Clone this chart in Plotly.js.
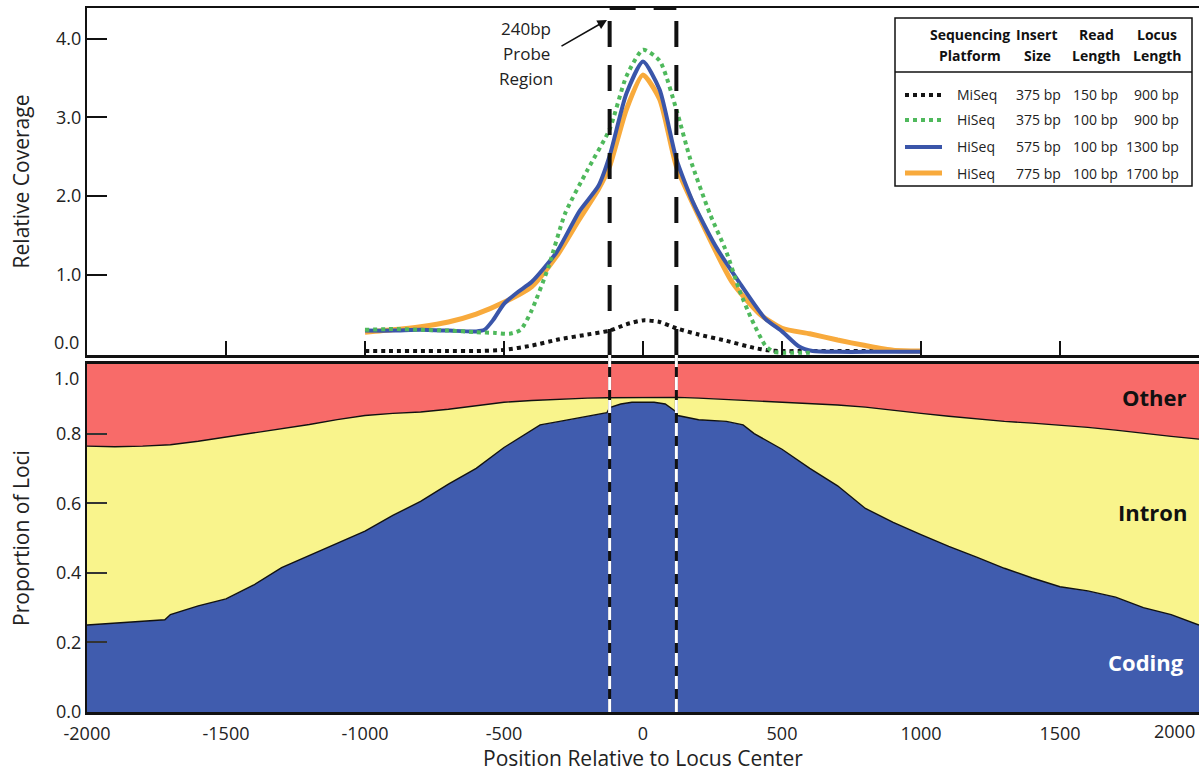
<!DOCTYPE html>
<html><head><meta charset="utf-8">
<script src="https://cdn.plot.ly/plotly-3.0.1.min.js"></script>
<style>html,body{margin:0;padding:0;background:#fff;} #chart{width:1199px;height:772px;}</style>
</head><body><div id="chart"></div>
<script>
// ---------------- data ----------------
// Top panel: relative coverage vs position
const miseqX = [-1000,-900,-800,-700,-600,-500,-400,-300,-200,-120,-60,0,60,120,200,300,400,450,500,600,700,800,900,1000];
const miseqY = [0.03,0.03,0.03,0.03,0.03,0.045,0.10,0.18,0.24,0.29,0.37,0.42,0.40,0.32,0.24,0.16,0.07,0.04,0.03,0.03,0.03,0.03,0.03,0.03];

const hiseq375X = [-1000,-900,-800,-700,-600,-530,-480,-440,-400,-340,-280,-200,-120,-60,0,60,120,170,240,300,345,390,440,470,500,600];
const hiseq375Y = [0.30,0.31,0.30,0.29,0.27,0.26,0.25,0.30,0.55,1.10,1.78,2.33,2.85,3.52,3.86,3.72,3.10,2.47,1.78,1.29,0.82,0.44,0.10,0.02,0.01,0.01];

const hiseq575X = [-1000,-900,-800,-700,-600,-570,-540,-500,-450,-400,-310,-230,-160,-120,-60,0,60,120,180,260,345,440,500,560,610,700,800,900,1000];
const hiseq575Y = [0.29,0.29,0.30,0.29,0.28,0.30,0.42,0.63,0.78,0.91,1.29,1.80,2.13,2.51,3.30,3.71,3.35,2.47,1.92,1.37,0.91,0.44,0.28,0.09,0.03,0.02,0.02,0.02,0.02];

const hiseq775X = [-1000,-900,-800,-700,-600,-500,-400,-310,-230,-160,-120,-60,0,60,120,200,320,420,500,600,700,800,900,1000];
const hiseq775Y = [0.27,0.30,0.34,0.40,0.50,0.65,0.85,1.24,1.70,2.09,2.38,3.10,3.54,3.23,2.38,1.75,0.91,0.50,0.32,0.25,0.17,0.10,0.04,0.03];

// Legend table
const platforms   = ['MiSeq','HiSeq','HiSeq','HiSeq'];
const insertSizes = ['375 bp','375 bp','575 bp','775 bp'];
const readLengths = ['150 bp','100 bp','100 bp','100 bp'];
const locusLengths= ['900 bp','900 bp','1300 bp','1700 bp'];
const headerTop   = ['Sequencing','Insert','Read','Locus'];
const headerBot   = ['Platform','Size','Length','Length'];

// Axis tick labels
const covTicks  = [1, 2, 3, 4];
const covLabels = ['1.0','2.0','3.0','4.0'];
const posTicks  = [-2000,-1500,-1000,-500,0,500,1000,1500];
const posLabels = ['-2000','-1500','-1000','-500','0','500','1000','1500'];
const propTicks = [0, 0.2, 0.4, 0.6, 0.8];
const propLabels= ['0.0','0.2','0.4','0.6','0.8'];

// Bottom panel: proportion of loci by category
const lociX = [-2000,-1900,-1800,-1720,-1700,-1600,-1500,-1400,-1300,-1200,-1100,-1000,-900,-800,-700,-600,-500,-400,-370,-300,-200,-130,-120,-80,-40,0,40,80,115,125,200,300,360,400,500,600,700,800,900,1000,1100,1200,1300,1400,1500,1600,1700,1800,1900,2000];
const coding = [0.25,0.255,0.26,0.265,0.28,0.305,0.325,0.365,0.415,0.45,0.485,0.52,0.565,0.605,0.655,0.70,0.76,0.81,0.825,0.835,0.85,0.86,0.875,0.885,0.89,0.89,0.89,0.885,0.865,0.852,0.84,0.835,0.825,0.80,0.755,0.70,0.65,0.585,0.545,0.51,0.476,0.445,0.413,0.385,0.36,0.348,0.33,0.30,0.28,0.25];
const intron = [0.514,0.507,0.504,0.502,0.488,0.473,0.465,0.435,0.398,0.376,0.355,0.332,0.293,0.257,0.215,0.18,0.13,0.085,0.071,0.065,0.052,0.043,0.028,0.019,0.015,0.015,0.015,0.02,0.039,0.052,0.062,0.063,0.071,0.095,0.135,0.188,0.232,0.291,0.321,0.348,0.374,0.397,0.422,0.445,0.465,0.47,0.48,0.50,0.512,0.534];
const other  = [0.236,0.238,0.236,0.233,0.232,0.222,0.21,0.20,0.187,0.174,0.16,0.148,0.142,0.138,0.13,0.12,0.11,0.105,0.104,0.10,0.098,0.097,0.097,0.096,0.095,0.095,0.095,0.095,0.096,0.096,0.098,0.102,0.104,0.105,0.11,0.112,0.118,0.124,0.134,0.142,0.15,0.158,0.165,0.17,0.175,0.182,0.19,0.20,0.208,0.216];

const probeHalf = 120; // 240bp probe region

// ---------------- styling ----------------
const FONT = 'Open Sans, Noto Sans, sans-serif';
const C = {miseq:'#141414', h375:'#4fb95c', h575:'#3a55a9', h775:'#f8aa3c',
           coding:'#405cae', intron:'#f9f48c', other:'#f86b69'};

const W = 1199, H = 772, ML = 87, MR = 0, MT = 8, MB = 60;
const PW = W - ML - MR, PH = H - MT - MB;
const px = v => (v - ML) / PW;          // pixel x -> paper
const py = v => (H - MB - v) / PH;      // pixel y -> paper

const topDom = [py(355), 1];
const botDom = [0, py(364)];

const traces = [
  {x: miseqX, y: miseqY, xaxis:'x', yaxis:'y', mode:'lines', line:{color:C.miseq, width:4, dash:'dot', shape:'spline', smoothing:0.6}},
  {x: hiseq775X, y: hiseq775Y, xaxis:'x', yaxis:'y', mode:'lines', line:{color:C.h775, width:5, shape:'spline', smoothing:0.6}},
  {x: hiseq575X, y: hiseq575Y, xaxis:'x', yaxis:'y', mode:'lines', line:{color:C.h575, width:4, shape:'spline', smoothing:0.6}},
  {x: hiseq375X, y: hiseq375Y, xaxis:'x', yaxis:'y', mode:'lines', line:{color:C.h375, width:4, dash:'dot', shape:'spline', smoothing:0.6}},
  {x: lociX, y: coding, xaxis:'x2', yaxis:'y2', mode:'lines', stackgroup:'loci', fillcolor:C.coding, line:{color:'#111', width:1.4}},
  {x: lociX, y: intron, xaxis:'x2', yaxis:'y2', mode:'lines', stackgroup:'loci', fillcolor:C.intron, line:{color:'#111', width:1.4}},
  {x: lociX, y: other,  xaxis:'x2', yaxis:'y2', mode:'lines', stackgroup:'loci', fillcolor:C.other, line:{color:'#111', width:0}}
];

const tickFont = {family: FONT, size: 18, color: '#222'};
const titleFont = {family: FONT, size: 21, color: '#222'};

const shapes = [];
const annotations = [];

// probe region dashed lines
[-probeHalf, probeHalf].forEach(xv => {
  shapes.push({type:'line', xref:'x', yref:'paper', x0:xv, x1:xv, y0:topDom[0], y1:1, line:{color:'#111', width:4, dash:'26px,18px'}});
  shapes.push({type:'line', xref:'x2', yref:'paper', x0:xv, x1:xv, y0:0, y1:topDom[0], line:{color:'#111', width:3}});
  shapes.push({type:'line', xref:'x2', yref:'paper', x0:xv, x1:xv, y0:0, y1:topDom[0], line:{color:'#fff', width:3, dash:'13px,10px'}});
});
shapes.push({type:'line', xref:'x', yref:'paper', x0:-probeHalf, x1:probeHalf, y0:1, y1:1, line:{color:'#111', width:4, dash:'26px,18px'}});

// legend box
shapes.push({type:'rect', xref:'paper', yref:'paper', x0:px(895), x1:px(1192), y0:py(186), y1:py(18), line:{color:'#111', width:1.5}, fillcolor:'#fff', layer:'above'});
shapes.push({type:'line', xref:'paper', yref:'paper', x0:px(895), x1:px(1192), y0:py(72), y1:py(72), line:{color:'#111', width:1.5}});
const rowY = [95, 120, 147, 173];
const sample = [
  {color:C.miseq, dash:'dot', width:4},
  {color:C.h375, dash:'dot', width:4},
  {color:C.h575, dash:'solid', width:4},
  {color:C.h775, dash:'solid', width:5}
];
const legFont = {family: FONT, size: 14, color: '#222'};
const legBold = {family: FONT, size: 14, color: '#111', weight: 'bold'};
const colX = [970, 1037, 1096, 1157];
headerTop.forEach((t,i) => {
  annotations.push({xref:'paper', yref:'paper', x:px(colX[i]), y:py(35), text:'<b>'+t+'</b>', showarrow:false, font:legBold, xanchor:'center', yanchor:'middle'});
  annotations.push({xref:'paper', yref:'paper', x:px(colX[i]), y:py(55), text:'<b>'+headerBot[i]+'</b>', showarrow:false, font:legBold, xanchor:'center', yanchor:'middle'});
});
rowY.forEach((ry,i) => {
  shapes.push({type:'line', xref:'paper', yref:'paper', x0:px(905), x1:px(942), y0:py(ry), y1:py(ry), line:sample[i]});
  annotations.push({xref:'paper', yref:'paper', x:px(955), y:py(ry), text:platforms[i], showarrow:false, font:legFont, xanchor:'left', yanchor:'middle'});
  annotations.push({xref:'paper', yref:'paper', x:px(1038), y:py(ry), text:insertSizes[i], showarrow:false, font:legFont, xanchor:'center', yanchor:'middle'});
  annotations.push({xref:'paper', yref:'paper', x:px(1095), y:py(ry), text:readLengths[i], showarrow:false, font:legFont, xanchor:'center', yanchor:'middle'});
  annotations.push({xref:'paper', yref:'paper', x:px(1181), y:py(ry), text:locusLengths[i], showarrow:false, font:legFont, xanchor:'right', yanchor:'middle'});
});

// probe label and arrow
['240bp','Probe','Region'].forEach((t,i) => {
  annotations.push({xref:'paper', yref:'paper', x:px(526), y:py(29 + 25*i), text:t, showarrow:false, font:{family:FONT, size:17, color:'#222'}, xanchor:'center', yanchor:'middle'});
});
annotations.push({xref:'paper', yref:'paper', x:px(607), y:py(20), text:'', showarrow:true, arrowhead:2, arrowsize:1.2, arrowwidth:1.6, arrowcolor:'#111', ax:-47, ay:27});

// edge tick labels placed as in the reference (offset from crowded panel joins / image edge)
annotations.push({xref:'paper', yref:'paper', x:px(81), y:py(342), text:'0.0', showarrow:false, font:tickFont, xanchor:'right', yanchor:'middle'});
annotations.push({xref:'paper', yref:'paper', x:px(81), y:py(378), text:'1.0', showarrow:false, font:tickFont, xanchor:'right', yanchor:'middle'});
annotations.push({xref:'paper', yref:'paper', x:px(1197), y:py(731), text:'2000', showarrow:false, font:tickFont, xanchor:'right', yanchor:'middle'});

// category labels
annotations.push({xref:'paper', yref:'paper', x:px(1189), y:py(397), text:'<b>Other</b>', showarrow:false, font:{family:FONT, size:22, color:'#111'}, xanchor:'right', yanchor:'middle'});
annotations.push({xref:'paper', yref:'paper', x:px(1189), y:py(512), text:'<b>Intron</b>', showarrow:false, font:{family:FONT, size:22, color:'#111'}, xanchor:'right', yanchor:'middle'});
annotations.push({xref:'paper', yref:'paper', x:px(1186), y:py(662), text:'<b>Coding</b>', showarrow:false, font:{family:FONT, size:22, color:'#fff'}, xanchor:'right', yanchor:'middle'});

const layout = {
  width: W, height: H,
  margin: {l: ML, r: MR, t: MT, b: MB},
  paper_bgcolor: '#fff', plot_bgcolor: '#fff',
  showlegend: false,
  font: {family: FONT, color: '#222'},
  xaxis: {domain:[0,1], anchor:'y', range:[-2000,2000], tick0:-2000, dtick:500, showticklabels:false,
          ticks:'inside', ticklen:14, tickwidth:1.5, tickcolor:'#111',
          showline:true, linewidth:2.5, linecolor:'#111', mirror:true, showgrid:false, zeroline:false},
  yaxis: {domain:topDom, anchor:'x', range:[-0.02,4.39], tickvals:covTicks, ticktext:covLabels,
          ticks:'inside', ticklen:20, tickwidth:2, tickcolor:'#111', tickfont:tickFont,
          showline:true, linewidth:2, linecolor:'#111', showgrid:false, zeroline:false,
          title:{text:'Relative Coverage', font:titleFont, standoff:21}},
  xaxis2: {domain:[0,1], anchor:'y2', range:[-2000,2000], tickvals:posTicks, ticktext:posLabels,
           ticks:'', ticklabelstandoff:3, tickfont:tickFont, showline:true, linewidth:3, linecolor:'#111', mirror:true,
           showgrid:false, zeroline:false,
           title:{text:'Position Relative to Locus Center', font:titleFont, standoff:6}},
  yaxis2: {domain:botDom, anchor:'x2', range:[0,1.0], tickvals:propTicks, ticktext:propLabels,
           ticks:'inside', ticklen:20, tickwidth:2, tickcolor:'#333', tickfont:tickFont,
           showline:true, linewidth:2, linecolor:'#111', showgrid:false, zeroline:false,
           title:{text:'Proportion of Loci', font:titleFont, standoff:21}},
  shapes: shapes,
  annotations: annotations
};

Plotly.newPlot('chart', traces, layout, {displayModeBar:false, staticPlot:true});
</script>
</body></html>
